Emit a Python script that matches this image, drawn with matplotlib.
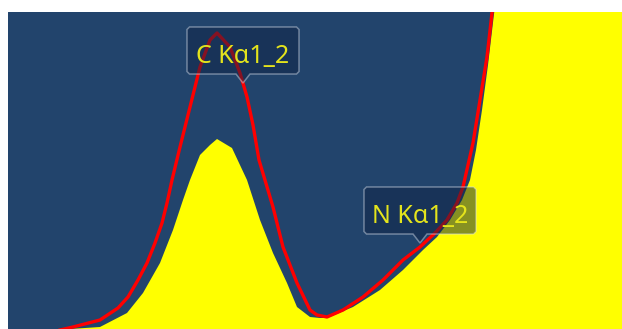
import numpy as np
import matplotlib
matplotlib.use("Agg")
from matplotlib import pyplot as plt
from matplotlib.patches import Polygon

# spectrum (yellow) and fit (red), x = channel, y = counts
spec_x = [62, 92, 119, 135, 152, 165, 175, 182, 192, 202, 209, 224, 239, 252, 265, 279,
          289, 302, 312, 319, 345, 372, 395, 415, 429, 442, 454, 462, 468, 474, 480, 486, 490, 620]
spec_y = [0, 2, 16, 36, 66, 99, 129, 149, 174, 184, 190, 181, 149, 109, 76, 46,
          22, 12, 11, 11, 22, 39, 59, 79, 92, 109, 129, 149, 179, 219, 264, 315, 345, 345]

fit_x = [52, 65, 92, 110, 120, 130, 139, 147, 154, 159, 164, 172, 182, 192, 202, 209,
         222, 232, 239, 245, 251, 265, 275, 289, 302, 309, 319, 335, 355, 375, 395,
         412, 427, 439, 449, 455, 465, 472, 479, 484, 486]
fit_y = [-1, 2, 9, 21, 32, 49, 66, 86, 106, 126, 149, 182, 222, 262, 289, 296,
         282, 256, 232, 204, 169, 122, 82, 46, 19, 14, 12, 19, 32, 49, 69,
         82, 96, 109, 126, 142, 186, 229, 272, 316, 345]

labels = ["C Kα1_2", "N Kα1_2"]
label_tip_x = [235, 412]
label_tip_y = [246, 86]

navy = "#22446c"
yellow = "#ffff00"
red = "#ff0000"

fig = plt.figure(figsize=(6.22, 3.29), dpi=100)
ax = fig.add_axes([8 / 622, 0, 614 / 622, 317 / 329])
ax.set_xlim(0, 614)
ax.set_ylim(0, 317)
ax.axis("off")
ax.add_patch(plt.Rectangle((0, 0), 614, 317, color=navy, zorder=0))

ax.fill_between(spec_x, spec_y, 0, color=yellow, lw=0, zorder=1)
ax.plot(fit_x, fit_y, color=red, lw=2.4, zorder=2, solid_joinstyle="round")

# callout boxes
box_w, box_h, gap, r, tri = 112, 47, 9, 2.5, 7
for text, tx, ty in zip(labels, label_tip_x, label_tip_y):
    x0 = tx - 56
    x1 = x0 + box_w
    yb = ty + gap
    yt = yb + box_h
    verts = [(x0 + r, yb), (tx - tri, yb), (tx, ty), (tx + tri, yb), (x1 - r, yb),
             (x1, yb + r), (x1, yt - r), (x1 - r, yt), (x0 + r, yt), (x0, yt - r),
             (x0, yb + r)]
    ax.add_patch(Polygon(verts, closed=True, facecolor=(0.06, 0.14, 0.27, 0.5),
                         edgecolor=(0.85, 0.88, 0.92, 0.45), lw=1.1, zorder=3))
    ax.text(x0 + box_w / 2, yb + 11, text, ha="center", va="baseline",
            fontsize=18, family=["Noto Sans", "DejaVu Sans"], color="#e4e41c", zorder=4)

fig.savefig("out.png", dpi=100, facecolor="white")
